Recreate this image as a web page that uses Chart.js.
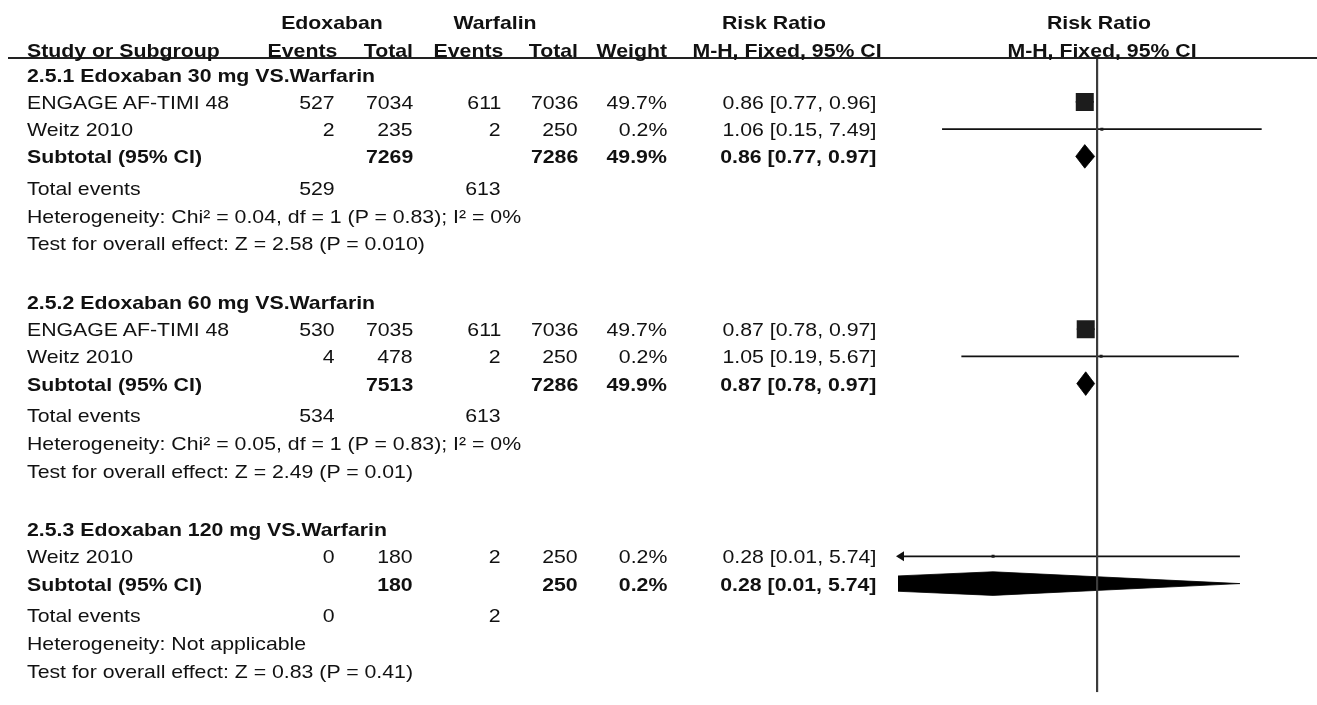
<!DOCTYPE html>
<html><head><meta charset="utf-8">
<script src="https://cdn.jsdelivr.net/npm/chart.js@4.4.1/dist/chart.umd.min.js"></script>
<style>
html,body{margin:0;padding:0;background:#fff;}
#wrap{position:relative;width:1317px;height:705px;overflow:hidden;font-family:"Liberation Sans",Arial,sans-serif;color:#111;}
#c{position:absolute;left:0;top:0;}
.t{position:absolute;white-space:nowrap;font-size:19px;line-height:1;}
.b{font-weight:bold;}
.rule{position:absolute;left:8px;top:57px;width:1309px;height:2px;background:#222;}
</style></head><body><div id="wrap"><canvas id="c" width="1317" height="705"></canvas><div class="rule"></div></div>
<script>
// ---------- data ----------
const groupTitles = ["2.5.1 Edoxaban 30 mg VS.Warfarin", "2.5.2 Edoxaban 60 mg VS.Warfarin", "2.5.3 Edoxaban 120 mg VS.Warfarin"];
const studyGroup = [0, 0, 1, 1, 2];
const studyNames = ["ENGAGE AF-TIMI 48", "Weitz 2010", "ENGAGE AF-TIMI 48", "Weitz 2010", "Weitz 2010"];
const edoEvents = [527, 2, 530, 4, 0];
const edoTotal = [7034, 235, 7035, 478, 180];
const warEvents = [611, 2, 611, 2, 2];
const warTotal = [7036, 250, 7036, 250, 250];
const studyWeight = [49.7, 0.2, 49.7, 0.2, 0.2];
const studyRR = [0.86, 1.06, 0.87, 1.05, 0.28];
const studyLo = [0.77, 0.15, 0.78, 0.19, 0.01];
const studyHi = [0.96, 7.49, 0.97, 5.67, 5.74];
const subEdoTotal = [7269, 7513, 180];
const subWarTotal = [7286, 7286, 250];
const subWeight = [49.9, 49.9, 0.2];
const subRR = [0.86, 0.87, 0.28];
const subLo = [0.77, 0.78, 0.01];
const subHi = [0.97, 0.97, 5.74];
const subEdoEvents = [529, 534, 0];
const subWarEvents = [613, 613, 2];
const heterogeneity = ["Heterogeneity: Chi\u00b2 = 0.04, df = 1 (P = 0.83); I\u00b2 = 0%", "Heterogeneity: Chi\u00b2 = 0.05, df = 1 (P = 0.83); I\u00b2 = 0%", "Heterogeneity: Not applicable"];
const overallTest = ["Test for overall effect: Z = 2.58 (P = 0.010)", "Test for overall effect: Z = 2.49 (P = 0.01)", "Test for overall effect: Z = 0.83 (P = 0.41)"];
const xAxisRange = [0.0875, 11.4];
const refValue = 1;

// ---------- layout ----------
const W = 1317, H = 705;
const U = 28.65, TOP = 58, ROW0 = 75;
// spacing (in row units) that follows each kind of row
const GAP = {group: 0.97, study: 0.97, sub: 1.12, events: 1.0, het: 0.98, test: 2.08};
const rows = []; let pos = 0;
const studyRow = [];
function addRow(r) { r.y = pos; rows.push(r); pos += GAP[r.kind]; }
groupTitles.forEach((title, g) => {
  addRow({kind: 'group', g});
  studyGroup.forEach((sg, i) => { if (sg === g) { studyRow[i] = pos; addRow({kind: 'study', i}); } });
  addRow({kind: 'sub', g});
  addRow({kind: 'events', g});
  addRow({kind: 'het', g});
  addRow({kind: 'test', g});
});
const subRow = rows.filter(r => r.kind === 'sub').map(r => r.y);
const yMin = -(ROW0 - TOP) / U;
const yMax = yMin + (H - TOP) / U;

const fmtCI = (r, l, h) => r.toFixed(2) + ' [' + l.toFixed(2) + ', ' + h.toFixed(2) + ']';

// ---------- datasets ----------
const datasets = [];
datasets.push({data: [{x: refValue, y: yMin}, {x: refValue, y: yMax}], borderColor: '#3c3c3c', borderWidth: 2.2, pointRadius: 0, order: 0});
studyLo.forEach((lo, i) => {
  datasets.push({data: [{x: lo, y: studyRow[i]}, {x: studyHi[i], y: studyRow[i]}], borderColor: '#111', borderWidth: 1.8, pointRadius: 0, order: 2});
});
datasets.push({
  type: 'scatter',
  data: studyRR.map((v, i) => ({x: v, y: studyRow[i]})),
  pointStyle: 'rect',
  pointRadius: studyWeight.map(w => Math.max(3, 18 * Math.sqrt(w / 49.7)) / Math.SQRT2),
  backgroundColor: '#1c1c1c', borderWidth: 0, order: 1
});
const dh = 0.42;
subRR.forEach((v, g) => {
  const r = subRow[g];
  datasets.push({
    data: [{x: subLo[g], y: r}, {x: v, y: r - dh}, {x: subHi[g], y: r}, {x: v, y: r + dh}, {x: subLo[g], y: r}],
    borderColor: '#000', borderWidth: 0.8, backgroundColor: '#000', fill: 'shape', pointRadius: 0, tension: 0, order: 1
  });
});

const arrowPlugin = {
  id: 'ciArrows',
  afterDatasetsDraw(chart) {
    const {ctx, chartArea, scales: {x, y}} = chart;
    ctx.save(); ctx.fillStyle = '#111';
    studyLo.forEach((lo, i) => {
      if (lo < x.min) {
        const py = y.getPixelForValue(studyRow[i]);
        const px = chartArea.left;
        ctx.beginPath(); ctx.moveTo(px - 2, py); ctx.lineTo(px + 6, py - 5); ctx.lineTo(px + 6, py + 5); ctx.closePath(); ctx.fill();
      }
    });
    ctx.restore();
  }
};

const chart = new Chart(document.getElementById('c'), {
  type: 'line',
  data: {datasets},
  options: {
    responsive: false, animation: false, events: [],
    layout: {padding: {left: 898, right: 21, top: TOP, bottom: 0}},
    plugins: {legend: {display: false}, tooltip: {enabled: false}},
    scales: {
      x: {type: 'logarithmic', min: xAxisRange[0], max: xAxisRange[1], display: false},
      y: {type: 'linear', reverse: true, min: yMin, max: yMax, display: false}
    }
  },
  plugins: [arrowPlugin]
});

// ---------- text ----------
const wrap = document.getElementById('wrap');
const SX = 1.12;
function txt(s, x, y, align, bold) {
  const d = document.createElement('div');
  d.className = 't' + (bold ? ' b' : '');
  d.textContent = s;
  d.style.top = y + 'px';
  if (align === 'left') { d.style.left = x + 'px'; d.style.transformOrigin = 'left center'; d.style.transform = 'translateY(-50%) scaleX(' + SX + ')'; }
  else if (align === 'right') { d.style.right = (W - x) + 'px'; d.style.transformOrigin = 'right center'; d.style.transform = 'translateY(-50%) scaleX(' + SX + ')'; }
  else { d.style.left = x + 'px'; d.style.transformOrigin = 'center center'; d.style.transform = 'translate(-50%,-50%) scaleX(' + SX + ')'; }
  wrap.appendChild(d);
}
const C = {name: 27, ee: 335, et: 413, we: 501, wt: 578, wgt: 667, rr: 876};
// headers
txt('Edoxaban', 332, 22, 'center', true);
txt('Warfalin', 495, 22, 'center', true);
txt('Risk Ratio', 774, 22, 'center', true);
txt('Risk Ratio', 1099, 22, 'center', true);
txt('Study or Subgroup', C.name, 50, 'left', true);
txt('Events', 337, 50, 'right', true);
txt('Total', C.et, 50, 'right', true);
txt('Events', 503, 50, 'right', true);
txt('Total', C.wt, 50, 'right', true);
txt('Weight', C.wgt, 50, 'right', true);
txt('M-H, Fixed, 95% CI', 787, 50, 'center', true);
txt('M-H, Fixed, 95% CI', 1102, 50, 'center', true);

const ys = chart.scales.y;
rows.forEach(r => {
  const py = ys.getPixelForValue(r.y);
  if (r.kind === 'group') txt(groupTitles[r.g], C.name, py, 'left', true);
  else if (r.kind === 'study') {
    const i = r.i;
    txt(studyNames[i], C.name, py, 'left');
    txt(String(edoEvents[i]), C.ee, py, 'right');
    txt(String(edoTotal[i]), C.et, py, 'right');
    txt(String(warEvents[i]), C.we, py, 'right');
    txt(String(warTotal[i]), C.wt, py, 'right');
    txt(studyWeight[i].toFixed(1) + '%', C.wgt, py, 'right');
    txt(fmtCI(studyRR[i], studyLo[i], studyHi[i]), C.rr, py, 'right');
  } else if (r.kind === 'sub') {
    const g = r.g;
    txt('Subtotal (95% CI)', C.name, py, 'left', true);
    txt(String(subEdoTotal[g]), C.et, py, 'right', true);
    txt(String(subWarTotal[g]), C.wt, py, 'right', true);
    txt(subWeight[g].toFixed(1) + '%', C.wgt, py, 'right', true);
    txt(fmtCI(subRR[g], subLo[g], subHi[g]), C.rr, py, 'right', true);
  } else if (r.kind === 'events') {
    txt('Total events', C.name, py, 'left');
    txt(String(subEdoEvents[r.g]), C.ee, py, 'right');
    txt(String(subWarEvents[r.g]), C.we, py, 'right');
  } else if (r.kind === 'het') {
    txt(heterogeneity[r.g], C.name, py, 'left');
  } else {
    txt(overallTest[r.g], C.name, py, 'left');
  }
});
</script></body></html>
